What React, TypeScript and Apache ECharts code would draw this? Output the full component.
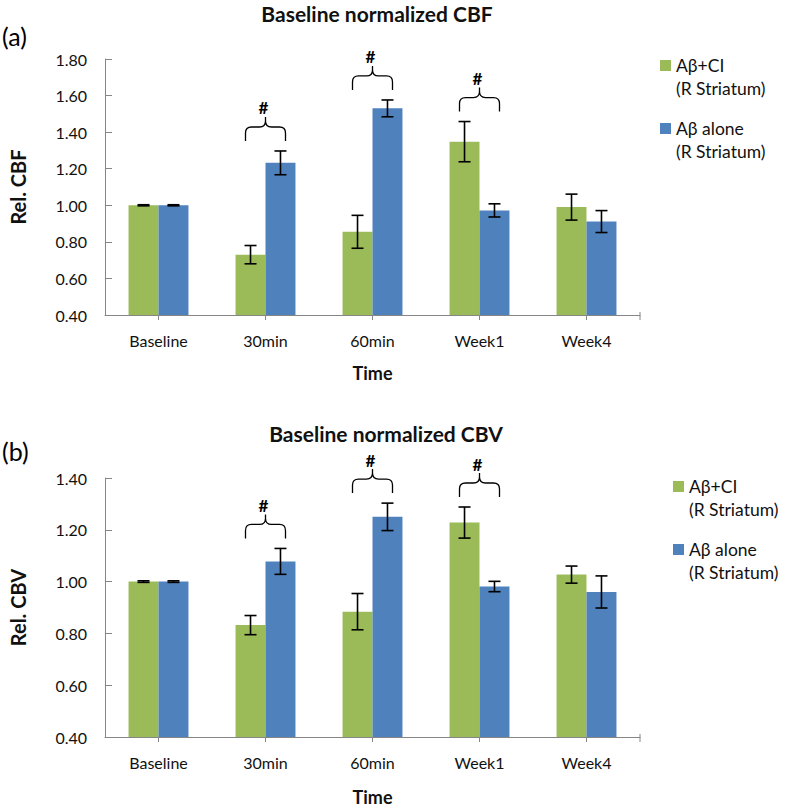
import React, { useEffect, useRef } from "react";
import * as echarts from "echarts";

const categories = ["Baseline", "30min", "60min", "Week1", "Week4"];
const seriesNames = ["Aβ+CI", "Aβ alone"];
const regionLabel = "(R Striatum)";

const cbfCI = [1.0, 0.73, 0.855, 1.348, 0.99];
const cbfCIErr = [0.003, 0.05, 0.09, 0.11, 0.071];
const cbfAlone = [1.0, 1.232, 1.53, 0.972, 0.911];
const cbfAloneErr = [0.003, 0.065, 0.046, 0.036, 0.06];

const cbvCI = [1.0, 0.832, 0.884, 1.228, 1.027];
const cbvCIErr = [0.003, 0.037, 0.07, 0.06, 0.033];
const cbvAlone = [1.0, 1.078, 1.25, 0.981, 0.96];
const cbvAloneErr = [0.003, 0.05, 0.053, 0.02, 0.062];

const significant = ["30min", "60min", "Week1"];

const GREEN = "#9BBB59";
const BLUE = "#4F81BD";
const AXIS = "#868686";
const FONT = "Lato";
const CAT_GAP = 0.44;

type Panel = {
  title: string;
  tag: string;
  yName: string;
  ci: number[];
  ciErr: number[];
  alone: number[];
  aloneErr: number[];
  yMin: number;
  yMax: number;
  gridTop: number;
  gridHeight: number;
  titleX: number;
  titleTop: number;
  tagY: number;
  legendX: number;
  legendY: number;
  nameGapX: number;
};

const panels: Panel[] = [
  {
    title: "Baseline normalized CBF",
    tag: "(a)",
    yName: "Rel. CBF",
    ci: cbfCI,
    ciErr: cbfCIErr,
    alone: cbfAlone,
    aloneErr: cbfAloneErr,
    yMin: 0.4,
    yMax: 1.8,
    gridTop: 59,
    gridHeight: 256,
    titleX: 377,
    titleTop: 1,
    tagY: 37,
    legendX: 660,
    legendY: 60,
    nameGapX: 49,
  },
  {
    title: "Baseline normalized CBV",
    tag: "(b)",
    yName: "Rel. CBV",
    ci: cbvCI,
    ciErr: cbvCIErr,
    alone: cbvAlone,
    aloneErr: cbvAloneErr,
    yMin: 0.4,
    yMax: 1.4,
    gridTop: 478,
    gridHeight: 259,
    titleX: 386,
    titleTop: 421,
    tagY: 452,
    legendX: 673,
    legendY: 481,
    nameGapX: 51,
  },
];

function buildOption() {
  const grid: any[] = [];
  const xAxis: any[] = [];
  const yAxis: any[] = [];
  const series: any[] = [];
  const title: any[] = [];
  const graphic: any[] = [];

  panels.forEach((p, k) => {
    grid.push({ left: 104, width: 536, top: p.gridTop, height: p.gridHeight });
    xAxis.push({
      type: "category",
      gridIndex: k,
      data: categories,
      boundaryGap: true,
      axisLine: { show: true, lineStyle: { color: AXIS, width: 1 } },
      axisTick: { show: true, alignWithLabel: true, length: 5, lineStyle: { color: AXIS } },
      axisLabel: { fontFamily: FONT, fontSize: 16, color: "#111", margin: 17 },
      name: "Time",
      nameLocation: "middle",
      nameGap: p.nameGapX,
      nameTextStyle: { fontFamily: FONT, fontSize: 18, fontWeight: "bold", color: "#111" },
    });
    yAxis.push({
      type: "value",
      gridIndex: k,
      min: p.yMin,
      max: p.yMax,
      interval: 0.2,
      splitLine: { show: false },
      axisLine: { show: true, lineStyle: { color: AXIS, width: 1 } },
      axisTick: { show: true, inside: true, length: 7, lineStyle: { color: AXIS } },
      axisLabel: {
        fontFamily: FONT,
        fontSize: 16,
        color: "#111",
        margin: 18,
        formatter: (v: number) => v.toFixed(2),
      },
      name: p.yName,
      nameLocation: "middle",
      nameGap: 77,
      nameTextStyle: { fontFamily: FONT, fontSize: 20, fontWeight: "bold", color: "#111" },
    });

    const vals = [p.ci, p.alone];
    const errs = [p.ciErr, p.aloneErr];
    [GREEN, BLUE].forEach((color, s) => {
      series.push({
        type: "bar",
        name: seriesNames[s],
        xAxisIndex: k,
        yAxisIndex: k,
        data: vals[s],
        barGap: "0%",
        barCategoryGap: CAT_GAP * 100 + "%",
        itemStyle: { color },
        silent: true,
      });
    });

    const errData: number[][] = [];
    for (let s = 0; s < 2; s++) {
      vals[s].forEach((v, i) => errData.push([i, v, errs[s][i], s]));
    }
    const yMin = p.yMin;
    series.push({
      type: "custom",
      xAxisIndex: k,
      yAxisIndex: k,
      z: 10,
      silent: true,
      data: errData,
      renderItem: (params: any, api: any) => {
        const idx = api.value(0);
        const v = api.value(1);
        const e = api.value(2);
        const s = api.value(3);
        const catW = api.size([1, 0])[0];
        const bw = (catW * (1 - CAT_GAP)) / 2;
        const center = api.coord([idx, v])[0];
        const cx = center + (s === 0 ? -bw / 2 : bw / 2);
        const yt = api.coord([idx, v + e])[1];
        const yb = api.coord([idx, v - e])[1];
        const cap = 6;
        const st = { stroke: "#000", lineWidth: 1.6 };
        const children: any[] = [
          { type: "line", shape: { x1: cx, y1: yt, x2: cx, y2: yb }, style: st },
          { type: "line", shape: { x1: cx - cap, y1: yt, x2: cx + cap, y2: yt }, style: st },
          { type: "line", shape: { x1: cx - cap, y1: yb, x2: cx + cap, y2: yb }, style: st },
        ];
        if (idx === categories.length - 1 && s === 1) {
          const ex = center + catW / 2;
          const ey = api.coord([idx, yMin])[1];
          children.push({
            type: "line",
            shape: { x1: ex, y1: ey - 3, x2: ex, y2: ey + 5 },
            style: { stroke: AXIS, lineWidth: 1 },
          });
        }
        return { type: "group", children };
      },
    });

    const braceData = significant.map((c) => {
      const i = categories.indexOf(c);
      return [i, Math.max(p.ci[i] + p.ciErr[i], p.alone[i] + p.aloneErr[i])];
    });
    series.push({
      type: "custom",
      xAxisIndex: k,
      yAxisIndex: k,
      z: 11,
      silent: true,
      data: braceData,
      renderItem: (params: any, api: any) => {
        const c = api.coord([api.value(0), api.value(1)]);
        const C = c[0];
        const b = c[1] - 10;
        const L = C - 20;
        const R = C + 20;
        const h = b - 14;
        const d =
          `M ${L} ${b} L ${L} ${b - 8} Q ${L} ${h} ${L + 6} ${h} L ${C - 6} ${h} ` +
          `Q ${C} ${h} ${C} ${h - 6} L ${C} ${h - 10} ` +
          `M ${C} ${h - 6} Q ${C} ${h} ${C + 6} ${h} L ${R - 6} ${h} Q ${R} ${h} ${R} ${b - 8} L ${R} ${b}`;
        return {
          type: "group",
          children: [
            { type: "path", shape: { pathData: d }, style: { stroke: "#000", fill: "none", lineWidth: 1.3 } },
            {
              type: "text",
              x: C - 2,
              y: b - 33,
              style: {
                text: "#",
                fontFamily: FONT,
                fontSize: 17,
                fontWeight: "bold",
                fill: "#000",
                align: "center",
                verticalAlign: "middle",
              },
            },
          ],
        };
      },
    });

    title.push({
      text: p.title,
      left: p.titleX,
      top: p.titleTop,
      textAlign: "center",
      padding: 0,
      textStyle: { fontFamily: FONT, fontSize: 21, lineHeight: 24, fontWeight: "bold", color: "#111" },
    });

    graphic.push({
      type: "text",
      left: 2,
      top: p.tagY - 14,
      style: { text: p.tag, fontFamily: FONT, fontSize: 25, fill: "#000" },
    });

    [GREEN, BLUE].forEach((color, s) => {
      const y0 = p.legendY + s * 63;
      graphic.push({
        type: "rect",
        shape: { x: p.legendX, y: y0, width: 11, height: 11 },
        style: { fill: color },
      });
      graphic.push({
        type: "text",
        x: p.legendX + 16,
        y: y0 + 6 - 12,
        style: {
          text: seriesNames[s] + "\n" + regionLabel,
          fontFamily: FONT,
          fontSize: 17.5,
          lineHeight: 23,
          fill: "#111",
          verticalAlign: "top",
        },
      });
    });
  });

  return {
    animation: false,
    backgroundColor: "#fff",
    title,
    grid,
    xAxis,
    yAxis,
    series,
    graphic,
  };
}

export default function App() {
  const ref = useRef<HTMLDivElement>(null);
  useEffect(() => {
    document.body.style.margin = "0";
    const chart = echarts.init(ref.current!, null, { renderer: "svg" });
    chart.setOption(buildOption());
    return () => chart.dispose();
  }, []);
  return <div ref={ref} style={{ width: 786, height: 809 }} />;
}
